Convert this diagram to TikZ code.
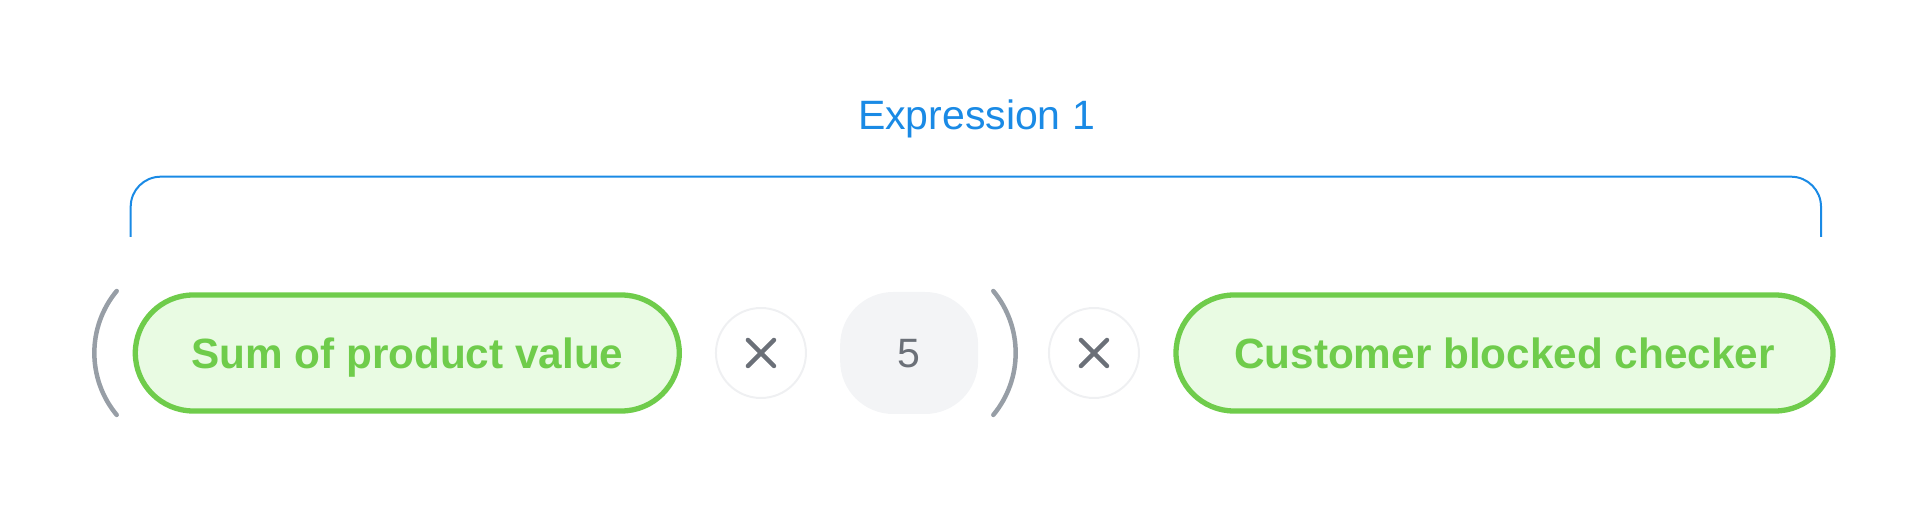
\documentclass[tikz,border=0pt]{standalone}
\usepackage{fontspec}
\setmainfont{Liberation Sans}
\usetikzlibrary{positioning}
\definecolor{exprblue}{HTML}{1A8AE5}
\definecolor{chipgreen}{HTML}{6FCC4B}
\definecolor{chipfill}{HTML}{E9FBE3}
\definecolor{ringgrey}{HTML}{EFF0F2}
\definecolor{crossgrey}{HTML}{6B7078}
\definecolor{numfill}{HTML}{F3F4F6}
\definecolor{parengrey}{HTML}{979EA6}
\tikzset{
  chip/.style={draw=chipgreen, fill=chipfill, line width=5.3pt, rounded corners=58pt,
    minimum height=116pt, text=chipgreen, text height=31pt, text depth=0pt,
    font=\fontsize{42.3}{50}\selectfont\bfseries},
  times/.style={circle, draw=ringgrey, line width=2pt, minimum size=90pt, inner sep=0pt,
    path picture={
      \draw[crossgrey, line width=4.5pt, line cap=round]
        ([shift={(-13pt,-13pt)}]path picture bounding box.center) -- ([shift={(13pt,13pt)}]path picture bounding box.center)
        ([shift={(-13pt,13pt)}]path picture bounding box.center) -- ([shift={(13pt,-13pt)}]path picture bounding box.center);
    }},
  number/.style={fill=numfill, rounded corners=53pt, minimum width=138pt, minimum height=122pt,
    text=crossgrey, text height=30pt, text depth=0pt, font=\fontsize{41}{48}\selectfont},
  paren/.style={draw=parengrey, line width=4.5pt, line cap=round},
  brace/.style={draw=exprblue, line width=2pt, rounded corners=30pt},
  exprlabel/.style={text=exprblue, font=\fontsize{41}{48}\selectfont}
}

\begin{document}
\begin{tikzpicture}[x=1pt, y=1pt]
  \useasboundingbox (0,0) rectangle (1932,522);
  % terms
  \node[chip, minimum width=544pt] (sum) at (407.3,169) {Sum of product value};
  \node[times, right=33pt of sum] (times1) {};
  \node[number, right=33pt of times1] (five) {5};
  \node[times, right=69.6pt of five] (times2) {};
  \node[chip, minimum width=657pt, right=33.4pt of times2] (blocked) {Customer blocked checker};
  % parentheses
  \draw[paren] (116.7,231) arc[start angle=140.3, end angle=219.7, radius=97];
  \draw[paren] (993.3,231) arc[start angle=39.7, end angle=-39.7, radius=97];
  % bracket and its label
  \draw[brace] (130.7,285) -- (130.7,345.3) -- (1821,345.3) -- (1821,285);
  \node[exprlabel, anchor=base] (expr) at (976.5,392) {Expression 1};
\end{tikzpicture}
\end{document}
